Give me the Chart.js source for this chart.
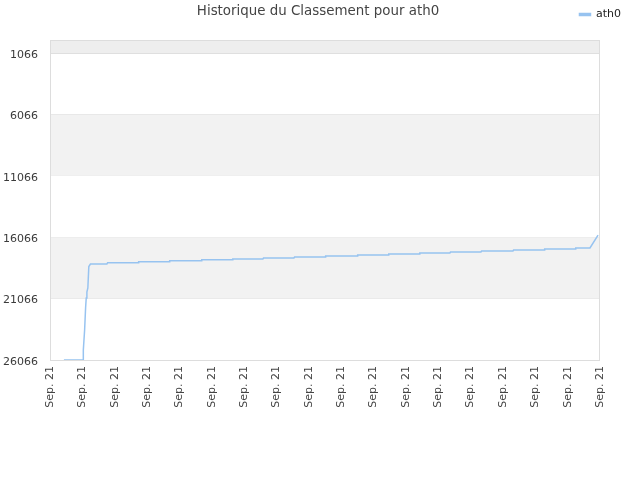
<!DOCTYPE html>
<html>
<head>
<meta charset="utf-8">
<script src="https://cdn.jsdelivr.net/npm/chart.js@4"></script>
<style>
  body { margin: 0; background: #fff; }
  #wrap { width: 640px; height: 480px; }
</style>
</head>
<body>
<div id="wrap"><canvas id="js--chart--rank" width="640" height="480"></canvas></div>
<script>
// titre + legende
const chartTitle = "Historique du Classement pour ath0";
const seriesName = "ath0";

// tijd in dagen (0 = eerste label), rang
const times = [0.43, 1.02, 1.03, 1.07, 1.10, 1.12, 1.14, 1.17, 1.20, 1.25,
  1.76, 1.78, 2.72, 2.74, 3.68, 3.70, 4.67, 4.69, 5.63, 5.65, 6.58, 6.60,
  7.54, 7.56, 8.50, 8.52, 9.49, 9.51, 10.45, 10.47, 11.41, 11.43, 12.36, 12.38,
  13.32, 13.34, 14.31, 14.33, 15.27, 15.29, 16.23, 16.25, 16.69, 16.94];
const ranks = [26066, 26066, 25250, 23620, 21830, 21020, 20530, 20200, 18450, 18248,
  18248, 18142, 18142, 18061, 18061, 17979, 17979, 17906, 17906, 17841, 17841, 17759,
  17759, 17678, 17678, 17596, 17596, 17515, 17515, 17433, 17433, 17352, 17352, 17270,
  17270, 17189, 17189, 17107, 17107, 17026, 17026, 16944, 16944, 15886];

// as labels
const yTicks = [1066, 6066, 11066, 16066, 21066, 26066];
const xLabelCount = 18;
const xLabel = "Sep. 21";

const points = times.map(function (t, i) {
  return { x: t, y: ranks[i] };
});

// grijze banden + rand
const bands = {
  id: "bands",
  beforeDatasetsDraw(chart) {
    const ctx = chart.ctx;
    const area = chart.chartArea;
    const y = chart.scales.y;
    ctx.save();
    ctx.fillStyle = "#eeeeee";
    ctx.fillRect(area.left, area.top, area.right - area.left, y.getPixelForValue(yTicks[0]) - area.top);
    for (let i = 1; i < yTicks.length; i += 2) {
      const y1 = y.getPixelForValue(yTicks[i]);
      const y2 = y.getPixelForValue(yTicks[i + 1]);
      ctx.fillStyle = "#f2f2f2";
      ctx.fillRect(area.left, y1, area.right - area.left, y2 - y1);
    }
    ctx.strokeStyle = "#dddddd";
    ctx.lineWidth = 1;
    ctx.strokeRect(area.left + 0.5, area.top + 0.5, area.right - area.left - 1, area.bottom - area.top);
    ctx.restore();
  }
};

const titel = {
  id: "titel",
  afterDraw(chart) {
    const ctx = chart.ctx;
    ctx.save();
    ctx.font = "13.4px 'DejaVu Sans'";
    ctx.fillStyle = "#444444";
    ctx.textAlign = "center";
    ctx.textBaseline = "middle";
    ctx.fillText(chartTitle, 318, 12);
    ctx.restore();
  }
};

// legende: vaste hoogte, rechts tot de rand
const legendHeight = {
  id: "legendHeight",
  beforeInit(chart) {
    const fit = chart.legend.fit;
    chart.legend.fit = function () {
      fit.bind(chart.legend)();
      this.height = 40;
    };
  },
  afterLayout(chart) {
    chart.legend.left = 0;
    chart.legend.right = 630;
  }
};

const data = {
  datasets: [{
    label: seriesName,
    data: points,
    borderColor: "#97c3f0",
    backgroundColor: "#97c3f0",
    borderWidth: 1.5,
    pointRadius: 0,
    tension: 0,
    fill: false
  }]
};

const config = {
  type: "line",
  data: data,
  options: {
    responsive: false,
    animation: false,
    layout: { padding: { left: 0, right: 40, top: 0, bottom: 0 } },
    plugins: {
      legend: {
        position: "top",
        align: "end",
        labels: {
          boxWidth: 11,
          boxHeight: 2,
          padding: 9,
          color: "#222222",
          font: { family: "DejaVu Sans", size: 11 }
        }
      },
      title: { display: false },
      tooltip: { enabled: false }
    },
    scales: {
      x: {
        type: "linear",
        min: 0,
        max: xLabelCount - 1,
        afterFit(scale) { scale.height = 120; },
        afterBuildTicks(scale) {
          scale.ticks = [];
          for (let i = 0; i < xLabelCount; i++) scale.ticks.push({ value: i });
        },
        ticks: {
          autoSkip: false,
          maxRotation: 90,
          minRotation: 90,
          padding: 6,
          color: "#444444",
          font: { family: "DejaVu Sans", size: 11 },
          callback: function () { return xLabel; }
        },
        grid: { display: false, drawTicks: false },
        border: { display: false }
      },
      y: {
        reverse: true,
        min: 0,
        max: 26066,
        afterFit(scale) { scale.width = 50; },
        afterBuildTicks(scale) {
          scale.ticks = yTicks.map(function (v) { return { value: v }; });
        },
        ticks: {
          padding: 12,
          labelOffset: 2,
          color: "#3a3a3a",
          font: { family: "DejaVu Sans", size: 11 },
          callback: function (v) { return String(v); }
        },
        grid: { color: "#dddddd", drawTicks: false },
        border: { display: false }
      }
    }
  },
  plugins: [bands, titel, legendHeight]
};

new Chart(document.getElementById("js--chart--rank"), config);
</script>
</body>
</html>
